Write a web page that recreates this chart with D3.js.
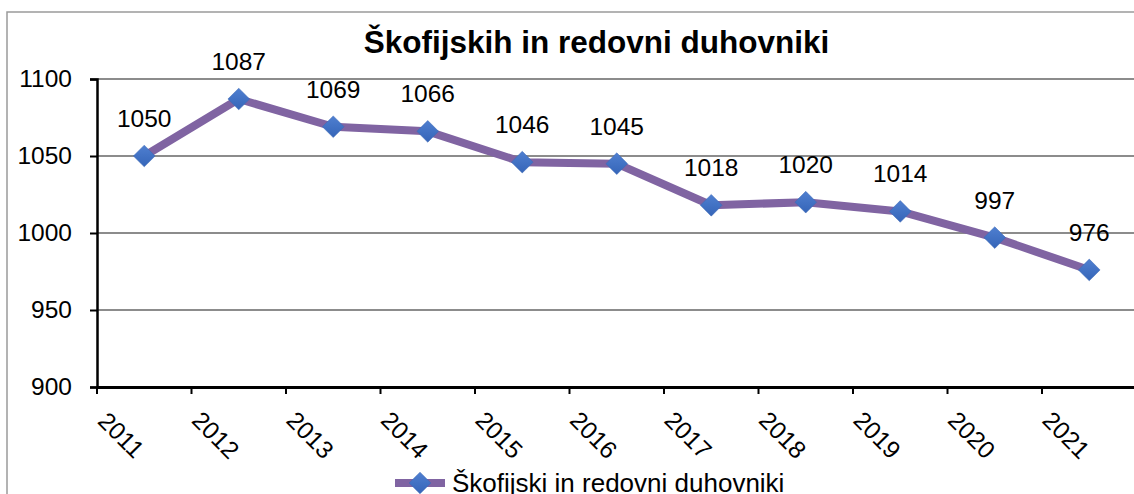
<!DOCTYPE html>
<html><head><meta charset="utf-8">
<script src="https://cdn.jsdelivr.net/npm/d3@7"></script>
<style>
html,body{margin:0;padding:0;background:#fff;overflow:hidden}
svg{display:block;font-family:Arial,"Liberation Sans",sans-serif}
</style></head>
<body>
<svg id="c" width="1134" height="494"></svg>
<script>
const title = "Škofijskih in redovni duhovniki";
const seriesName = "Škofijski in redovni duhovniki";
const years = ["2011","2012","2013","2014","2015","2016","2017","2018","2019","2020","2021"];
const values = [1050,1087,1069,1066,1046,1045,1018,1020,1014,997,976];
const yTicks = [900,950,1000,1050,1100];

(function(){
const svg = d3.select("#c");
const pLeft = 97, pRight = 1136.5, pTop = 79, pBottom = 387;
const lineColor = "#8064A2";

// outer border
svg.append("rect").attr("x",7).attr("y",12).attr("width",1200).attr("height",600)
  .attr("fill","none").attr("stroke","#9a9a9a").attr("stroke-width",1.5);

const x = d3.scaleBand().domain(years).range([pLeft,pRight]).paddingInner(0).paddingOuter(0);
const y = d3.scaleLinear().domain([900,1100]).range([pBottom,pTop]);

const defs = svg.append("defs");
const grad = defs.append("linearGradient").attr("id","mg").attr("x1","0").attr("y1","0").attr("x2","0").attr("y2","1");
grad.append("stop").attr("offset","0%").attr("stop-color","#4f7fd0");
grad.append("stop").attr("offset","100%").attr("stop-color","#3565b8");

// gridlines
svg.append("g").selectAll("line").data(yTicks.filter(d=>d>900)).join("line")
  .attr("x1",pLeft).attr("x2",1134).attr("y1",d=>y(d)).attr("y2",d=>y(d))
  .attr("stroke","#8c8c8c").attr("stroke-width",2);

// y axis
const yAxis = svg.append("g").attr("transform",`translate(${pLeft},0)`)
  .call(d3.axisLeft(y).tickValues(yTicks).tickSize(7).tickPadding(18).tickFormat(d3.format("d")));
yAxis.select(".domain").attr("stroke","#000").attr("stroke-width",2.5);
yAxis.selectAll(".tick line").attr("stroke","#000").attr("stroke-width",2);
yAxis.selectAll("text").attr("font-size",24.5).attr("fill","#000");
yAxis.attr("font-family",null);

// x axis
const xAxis = svg.append("g").attr("transform",`translate(0,${pBottom})`)
  .call(d3.axisBottom(x).tickValues([]).tickSizeOuter(0));
xAxis.select(".domain").attr("stroke","#000").attr("stroke-width",3);
svg.append("g").selectAll("line").data(years).join("line")
  .attr("x1",d=>x(d)).attr("x2",d=>x(d)).attr("y1",pBottom).attr("y2",pBottom+7)
  .attr("stroke","#000").attr("stroke-width",2);
svg.append("g").selectAll("text").data(years).join("text")
  .attr("transform",d=>`translate(${x(d)+x.bandwidth()/2-23},435) rotate(45)`)
  .attr("text-anchor","middle").attr("dy","0.35em")
  .attr("font-size",24.5).attr("fill","#000").text(d=>d);

// line
const pts = years.map((yr,i)=>({yr, v:values[i]}));
const line = d3.line().x(d=>x(d.yr)+x.bandwidth()/2).y(d=>y(d.v));
svg.append("path").datum(pts).attr("d",line).attr("fill","none")
  .attr("stroke",lineColor).attr("stroke-width",8).attr("stroke-linejoin","round");

// markers
const diamond = d3.symbol().type(d3.symbolDiamond2).size(300);
svg.append("g").selectAll("path").data(pts).join("path")
  .attr("d",diamond)
  .attr("transform",d=>`translate(${x(d.yr)+x.bandwidth()/2},${y(d.v)})`)
  .attr("fill","url(#mg)").attr("stroke","#3a67b5").attr("stroke-width",0.5);

// data labels
svg.append("g").selectAll("text").data(pts).join("text")
  .attr("x",d=>x(d.yr)+x.bandwidth()/2).attr("y",d=>y(d.v)-29)
  .attr("text-anchor","middle").attr("font-size",24.5).attr("fill","#000")
  .text(d=>d.v);

// title
svg.append("text").attr("x",596.5).attr("y",53).attr("text-anchor","middle")
  .attr("font-size",31.5).attr("font-weight","bold").attr("fill","#000").text(title);

// legend
const lg = svg.append("g");
lg.append("line").attr("x1",395).attr("x2",445).attr("y1",483).attr("y2",483)
  .attr("stroke",lineColor).attr("stroke-width",8);
lg.append("path").attr("d",diamond).attr("transform","translate(420,483)")
  .attr("fill","url(#mg)").attr("stroke","#3a67b5").attr("stroke-width",0.5);
lg.append("text").attr("x",452).attr("y",492).attr("font-size",26).attr("fill","#000").text(seriesName);
})();
</script>
</body></html>
